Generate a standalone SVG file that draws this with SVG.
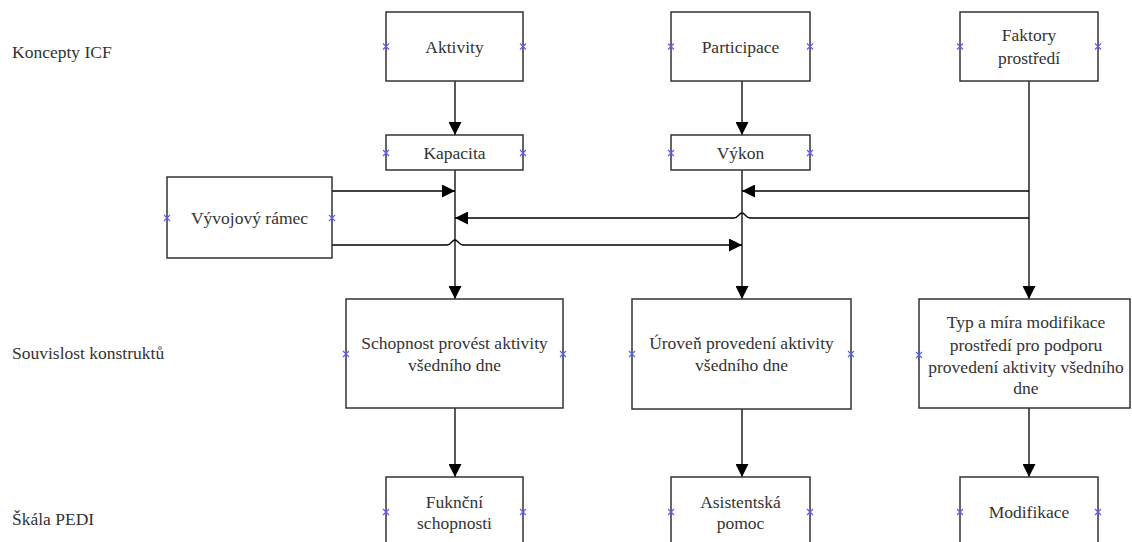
<svg xmlns="http://www.w3.org/2000/svg" width="1132" height="542" viewBox="0 0 1132 542">
<defs>
<style>
.box{fill:#fff;stroke:#333;stroke-width:1.5}
.t{font-family:"Liberation Serif","Times New Roman",serif;font-size:17.5px;fill:#333;text-anchor:middle}
.lbl{font-family:"Liberation Serif","Times New Roman",serif;font-size:17.5px;fill:#333}
.c{fill:none;stroke:#000;stroke-width:1.3}
.x{stroke:#5a5aff;stroke-width:1.1}
</style>
<marker id="ah" viewBox="0 0 13 13" refX="13" refY="6.5" markerWidth="13" markerHeight="13" markerUnits="userSpaceOnUse" orient="auto">
<path d="M0,0 L13,6.5 L0,13 Z" fill="#000"/>
</marker>
<g id="xm"><path class="x" d="M-3,-3 L3,3 M-3,3 L3,-3"/></g>
</defs>
<rect width="1132" height="542" fill="#fff"/>

<g id="labels">
<text class="lbl" x="12" y="58">Koncepty ICF</text>
<text class="lbl" x="12" y="359">Souvislost konstruktů</text>
<text class="lbl" x="12" y="525">Škála PEDI</text>
</g>

<g id="connectors">
<path class="c" d="M455,81 L455,135" marker-end="url(#ah)"/>
<path class="c" d="M742,81 L742,135" marker-end="url(#ah)"/>
<path class="c" d="M455,170 L455,299" marker-end="url(#ah)"/>
<path class="c" d="M742,170 L742,299" marker-end="url(#ah)"/>
<path class="c" d="M1029,81 L1029,299" marker-end="url(#ah)"/>
<path class="c" d="M455,408 L455,477" marker-end="url(#ah)"/>
<path class="c" d="M742,408 L742,477" marker-end="url(#ah)"/>
<path class="c" d="M1029,408 L1029,477" marker-end="url(#ah)"/>
<path class="c" d="M332,191 L455,191" marker-end="url(#ah)"/>
<path class="c" d="M1029,191 L742,191" marker-end="url(#ah)"/>
<path class="c" d="M1029,218 L750,218 C746,218 745,213 742,213 C739,213 738,218 734,218 L455,218" marker-end="url(#ah)"/>
<path class="c" d="M332,245 L447,245 C451,245 452,240 455,240 C458,240 459,245 463,245 L742,245" marker-end="url(#ah)"/>
</g>

<g id="aktivity">
<rect class="box" x="386" y="12" width="137" height="69"/>
<text class="t" x="454.5" y="53">Aktivity</text>
<use href="#xm" x="386" y="46.5"/><use href="#xm" x="523" y="46.5"/>
</g>
<g id="participace">
<rect class="box" x="671" y="12" width="139" height="69"/>
<text class="t" x="740.5" y="53">Participace</text>
<use href="#xm" x="671" y="46.5"/><use href="#xm" x="810" y="46.5"/>
</g>
<g id="faktory">
<rect class="box" x="960" y="12" width="138" height="69"/>
<text class="t" x="1029" y="41">Faktory</text>
<text class="t" x="1029" y="64">prostředí</text>
<use href="#xm" x="960" y="46.5"/><use href="#xm" x="1098" y="46.5"/>
</g>
<g id="kapacita">
<rect class="box" x="386" y="135" width="137" height="35"/>
<text class="t" x="454.5" y="159">Kapacita</text>
<use href="#xm" x="386" y="153"/><use href="#xm" x="523" y="153"/>
</g>
<g id="vykon">
<rect class="box" x="671" y="135" width="139" height="35"/>
<text class="t" x="740.5" y="159">Výkon</text>
<use href="#xm" x="671" y="153"/><use href="#xm" x="810" y="153"/>
</g>
<g id="vyvojovy">
<rect class="box" x="167" y="177" width="165" height="81"/>
<text class="t" x="249.5" y="224">Vývojový rámec</text>
<use href="#xm" x="167" y="218"/><use href="#xm" x="332" y="218"/>
</g>
<g id="schopnost">
<rect class="box" x="346" y="299" width="217" height="109"/>
<text class="t" x="454.5" y="349">Schopnost provést aktivity</text>
<text class="t" x="454.5" y="371">všedního dne</text>
<use href="#xm" x="346" y="354"/><use href="#xm" x="563" y="354"/>
</g>
<g id="uroven">
<rect class="box" x="632" y="299" width="219" height="110"/>
<text class="t" x="741.5" y="349">Úroveň provedení aktivity</text>
<text class="t" x="741.5" y="371">všedního dne</text>
<use href="#xm" x="632" y="354"/><use href="#xm" x="851" y="354"/>
</g>
<g id="typ">
<rect class="box" x="919" y="299" width="211" height="109"/>
<text class="t" x="1026" y="328">Typ a míra modifikace</text>
<text class="t" x="1026" y="351">prostředí pro podporu</text>
<text class="t" x="1026" y="373">provedení aktivity všedního</text>
<text class="t" x="1026" y="394">dne</text>
<use href="#xm" x="919" y="355"/>
</g>
<g id="fukncni">
<rect class="box" x="386" y="477" width="137" height="80"/>
<text class="t" x="454.5" y="508">Fuknční</text>
<text class="t" x="454.5" y="529">schopnosti</text>
<use href="#xm" x="386" y="512"/><use href="#xm" x="523" y="512"/>
</g>
<g id="asistentska">
<rect class="box" x="671" y="477" width="139" height="80"/>
<text class="t" x="740.5" y="508">Asistentská</text>
<text class="t" x="740.5" y="529">pomoc</text>
<use href="#xm" x="671" y="512"/><use href="#xm" x="810" y="512"/>
</g>
<g id="modifikace">
<rect class="box" x="960" y="477" width="138" height="80"/>
<text class="t" x="1029" y="518">Modifikace</text>
<use href="#xm" x="960" y="512"/><use href="#xm" x="1098" y="512"/>
</g>
</svg>
